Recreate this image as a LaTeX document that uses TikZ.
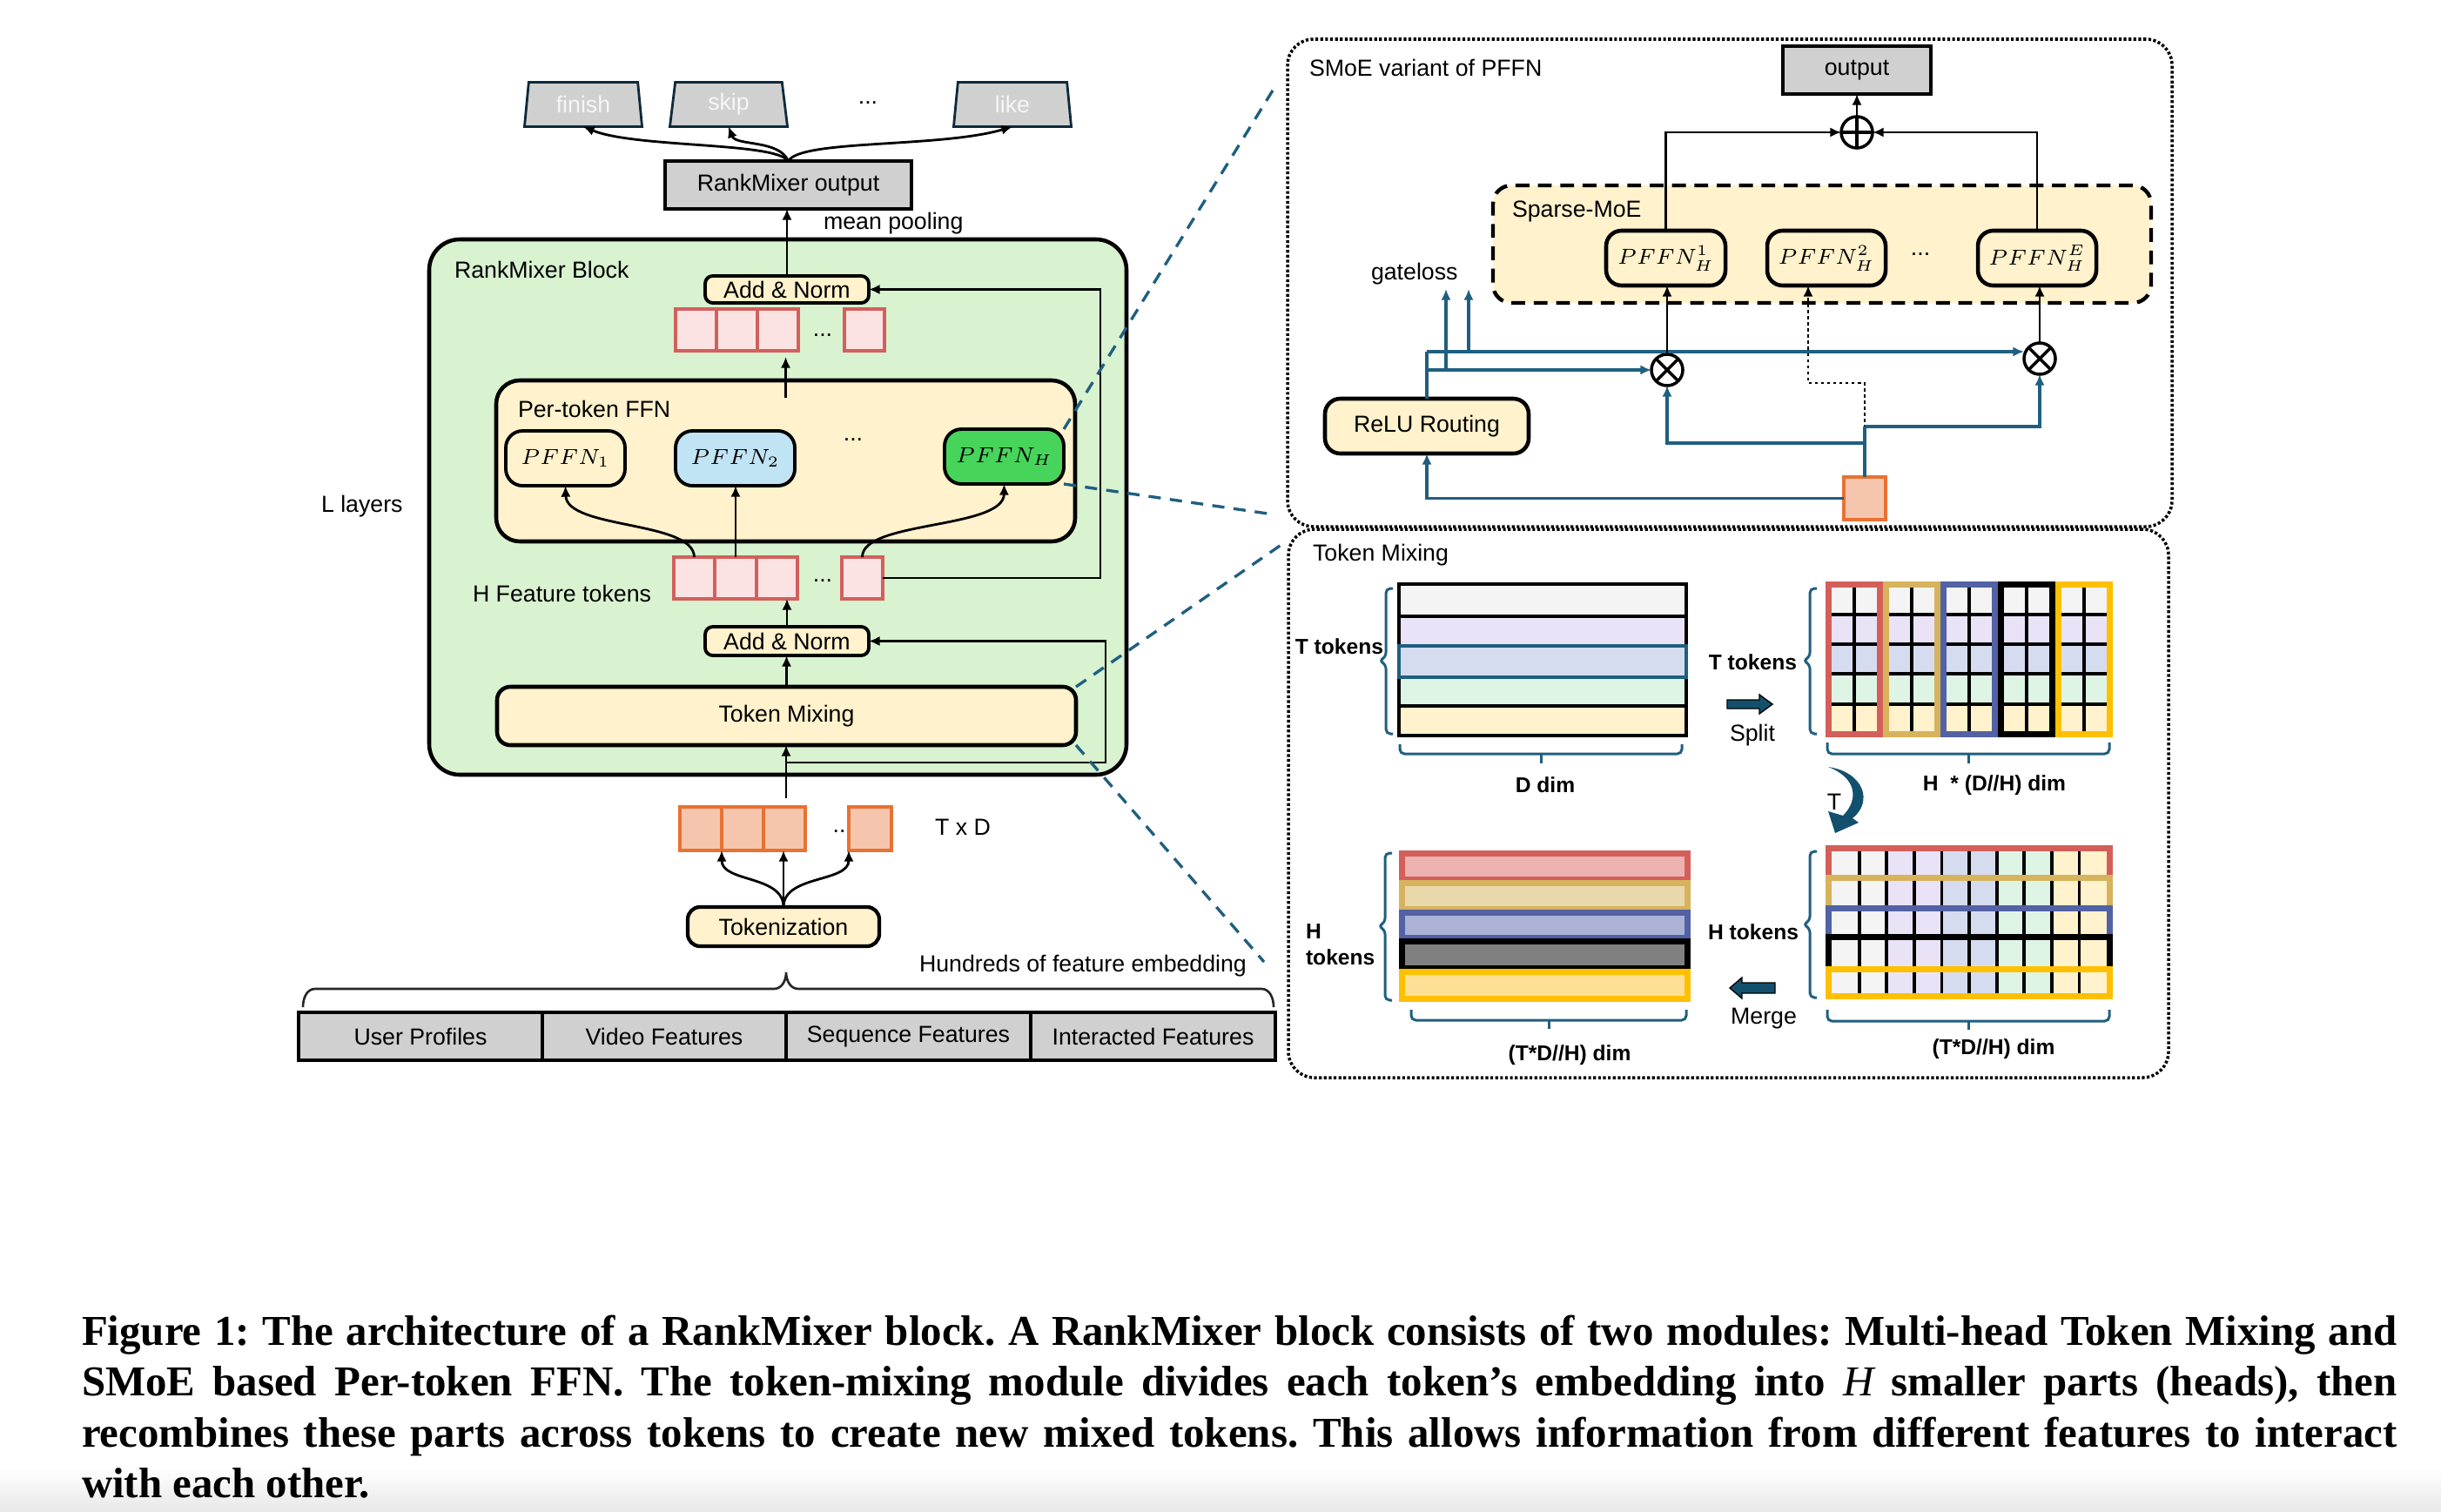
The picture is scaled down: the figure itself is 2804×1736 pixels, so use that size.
\documentclass[tikz,border=0pt]{standalone}
\usepackage{fix-cm}
\usepackage{fontspec}
\setmainfont{Liberation Sans}
\newfontfamily\capfont{Liberation Serif}
\usetikzlibrary{shapes.geometric,arrows.meta,calc}

\definecolor{blkg}{HTML}{D9F2D0}
\definecolor{cream}{HTML}{FFF2CC}
\definecolor{pinkf}{HTML}{FCE3E3}
\definecolor{pinkd}{HTML}{D2605D}
\definecolor{pblue}{HTML}{C1E4F5}
\definecolor{pgreen}{HTML}{47D45A}
\definecolor{orf}{HTML}{F5C6AD}
\definecolor{ord}{HTML}{E97132}
\definecolor{gry}{HTML}{D0D0D0}
\definecolor{zblue}{HTML}{1F5F80}
\definecolor{navy}{HTML}{0E2A3B}
\definecolor{rA}{HTML}{F4F4F4}
\definecolor{rB}{HTML}{EAE3F8}
\definecolor{rC}{HTML}{D6DCF0}
\definecolor{rD}{HTML}{DEF5E6}
\definecolor{rE}{HTML}{FFF2CC}
\definecolor{gR}{HTML}{D45F5A}
\definecolor{gG}{HTML}{D6B35C}
\definecolor{gB}{HTML}{5262A4}
\definecolor{gK}{HTML}{000000}
\definecolor{gY}{HTML}{FFC000}
\definecolor{iR}{HTML}{ECB2AF}
\definecolor{iG}{HTML}{E8D8AC}
\definecolor{iB}{HTML}{AAB3D5}
\definecolor{iK}{HTML}{808080}
\definecolor{iY}{HTML}{FDE096}
\definecolor{tarrow}{HTML}{13506E}

\newcommand\lblf{\fontsize{7.6}{9}\selectfont}
\newcommand\mthf{\fontsize{7.1}{9}\selectfont}
\newcommand\bldf{\fontsize{7}{8.5}\selectfont\bfseries}
\newcommand\capf{\capfont\bfseries\fontsize{13.9}{16}\selectfont\frenchspacing}
\newcommand\bx[7]{\node[#2,minimum width={(#5-#3)*0.01cm},minimum height={(#6-#4)*0.01cm}] (#1) at ({(#3+#5)/2},{(#4+#6)/2}) {#7};}

\begin{document}
\begin{tikzpicture}[x=0.01cm,y=-0.01cm,
  box/.style={draw,inner sep=0pt,outer sep=0pt,font=\lblf},
  mbox/.style={draw,inner sep=0pt,outer sep=0pt,font=\mthf},
  lbl/.style={inner sep=0pt,outer sep=0pt,font=\lblf},
  bld/.style={inner sep=0pt,outer sep=0pt,font=\bldf},
  arr/.style={line width=0.8pt,-{Latex[length=3.6pt,width=3.2pt]}},
  bl/.style={draw=zblue,line width=0.9pt},
  blarr/.style={draw=zblue,line width=0.9pt,-{Latex[length=3.6pt,width=3.2pt]}},
  zl/.style={draw=zblue,line width=0.95pt,dash pattern=on 4pt off 3pt},
  panel/.style={draw,line width=1pt,dash pattern=on 0.9pt off 0.7pt,rounded corners=8.5pt,inner sep=0pt,outer sep=0pt},
  brc/.style={draw=zblue,line width=0.85pt,rounded corners=1.5pt},
  tok/.style={box,fill=pinkf,draw=pinkd,line width=0.9pt},
  otok/.style={box,fill=orf,draw=ord,line width=0.9pt},
  trap/.style={trapezium,trapezium left angle=76,trapezium right angle=76,trapezium stretches body,draw=navy,fill=gry,line width=0.8pt,inner sep=0pt,outer sep=0pt,minimum width=1.35cm,minimum height=0.51cm,text=white!93!gray,font=\lblf},
  oplus/.style={circle,draw,line width=1pt,inner sep=0pt,outer sep=0pt,minimum size=0.36cm},
]
\useasboundingbox (0,0) rectangle (2804,1736);
\shade[top color=white,bottom color=black!9] (0,1686) rectangle (2804,1736);

% ---------------- outputs ----------------
\node[trap] (fin) at (670,120) {finish};
\node[trap] (skp) at (837,120) {skip};
\node[trap] (lik) at (1163,120) {like};
\node[lbl] (odots) at (997,118) {...};
\bx{rmo}{box,fill=gry,line width=1.05pt}{764}{185}{1047}{240}{RankMixer output}
\draw[arr] (rmo.north) .. controls (890,163) and (730,170) .. (fin.south);
\draw[arr] (rmo.north) .. controls (895,160) and (845,168) .. (skp.south);
\draw[arr] (rmo.north) .. controls (920,160) and (1080,170) .. (lik.south);
\node[lbl,anchor=west] (mp) at (946,257) {mean pooling};

% ---------------- RankMixer block ----------------
\bx{blk}{draw,fill=blkg,line width=1.3pt,rounded corners=10pt,inner sep=0pt,outer sep=0pt}{493}{275}{1294}{890}{}
\node[lbl,anchor=west] (blkt) at (522,310) {RankMixer Block};
\bx{an2}{box,fill=cream,line width=1.1pt,rounded corners=2.5pt}{810}{317}{998}{348}{Add \& Norm}
\bx{tA1}{tok}{776}{355}{823}{403}{}
\bx{tA2}{tok}{823}{355}{870}{403}{}
\bx{tA3}{tok}{870}{355}{917}{403}{}
\bx{tA4}{tok}{970}{355}{1016}{403}{}
\node[lbl] (tAd) at (945,385) {...};
\draw[arr] (an2.north) -- (an2.north |- rmo.south);

\bx{pffn}{draw,fill=cream,line width=1.3pt,rounded corners=7.7pt,inner sep=0pt,outer sep=0pt}{570}{437}{1235}{622}{}
\node[lbl,anchor=west] (pffnt) at (595,470) {Per-token FFN};
\draw[arr] ($(pffn.north)+(0,20)$) -- ($(pffn.north)+(0,-27)$);
\bx{p1}{mbox,fill=cream,line width=1.1pt,rounded corners=5.5pt}{581}{495}{718}{558}{$PFFN_1$}
\bx{p2}{mbox,fill=pblue,line width=1.1pt,rounded corners=5.5pt}{776}{495}{913}{558}{$PFFN_2$}
\bx{pH}{mbox,fill=pgreen,line width=1.1pt,rounded corners=5.5pt}{1085}{493}{1222}{556}{$PFFN_H$}
\node[lbl] (pdots) at (980,505) {...};

\bx{tB1}{tok}{774}{640}{821}{688}{}
\bx{tB2}{tok}{821}{640}{869}{688}{}
\bx{tB3}{tok}{869}{640}{916}{688}{}
\bx{tB4}{tok}{967}{640}{1014}{688}{}
\node[lbl] (tBd) at (945,667) {...};
\draw[arr] (tB1.north) .. controls (797,598) and (651,608) .. (p1.south);
\draw[arr] (tB2.north) -- (tB2.north |- p2.south);
\draw[arr] (tB4.north) .. controls (990,598) and (1153,608) .. (pH.south);
\draw[arr] (tB4.east) -- (1264,664) |- (an2.east);
\node[lbl,anchor=west] (hft) at (543,682) {H Feature tokens};
\node[lbl,anchor=west] (ll) at (369,582) {L layers};

\bx{an1}{box,fill=cream,line width=1.1pt,rounded corners=2.5pt}{810}{720}{998}{753}{Add \& Norm}
\draw[arr] (an1.north) -- (an1.north |- tB3.south);
\bx{tm}{box,fill=cream,line width=1.3pt,rounded corners=4.3pt}{571}{789}{1236}{856}{Token Mixing}
\draw[arr] (tm.north) -- (tm.north |- an1.south);
\coordinate (inTop) at (903,917);
\coordinate (resB) at (903,876);
\draw[arr] (inTop) -- (inTop |- tm.south);
\draw[arr] (resB) -- (1270,876) |- (an1.east);

% ---------------- input ----------------
\bx{oA1}{otok}{781}{927}{829}{977}{}
\bx{oA2}{otok}{829}{927}{877}{977}{}
\bx{oA3}{otok}{877}{927}{925}{977}{}
\node[lbl] (oAd) at (964,955) {..};
\bx{oA4}{otok}{975}{927}{1024}{977}{}
\node[lbl,anchor=west] (txd) at (1074,950) {T x D};
\bx{tokz}{box,fill=cream,line width=1.2pt,rounded corners=4pt}{790}{1042}{1010}{1087}{Tokenization}
\draw[arr] (tokz.north) .. controls (900,1005) and (829,1014) .. (oA2.south west);
\draw[arr] (tokz.north) -- (tokz.north |- oA3.south);
\draw[arr] (tokz.north) .. controls (900,1005) and (975,1014) .. (oA4.south west);
\node[lbl,anchor=west] (hfe) at (1056,1110) {Hundreds of feature embedding};
\draw[line width=0.75pt,draw=black!85] (348,1157) to[out=90,in=180] (362,1136) -- (889,1136) to[out=0,in=-90] (903,1117) to[out=-90,in=180] (917,1136) -- (1449,1136) to[out=0,in=90] (1463,1157);
\bx{f1}{box,fill=gry,line width=1.3pt}{343}{1163}{623}{1218}{User Profiles}
\bx{f2}{box,fill=gry,line width=1.3pt}{623}{1163}{903}{1218}{Video Features}
\bx{f3}{box,fill=gry,line width=1.3pt}{903}{1163}{1184}{1218}{Sequence Features}
\bx{f4}{box,fill=gry,line width=1.3pt}{1184}{1163}{1465}{1218}{Interacted Features}

% ---------------- zoom lines ----------------
\coordinate (zs1) at (1465,99);
\coordinate (zs2) at (1463,591);
\coordinate (zt1) at (1473,625);
\coordinate (zt2) at (1452,1105);
\draw[zl] (pH.north east) -- (zs1);
\draw[zl] (pH.south east) -- (zs2);
\draw[zl] (tm.north east) -- (zt1);
\draw[zl] (tm.south east) -- (zt2);

% ---------------- SMoE panel ----------------
\bx{smoe}{panel}{1479}{45}{2495}{605}{}
\node[lbl,anchor=west] (smoet) at (1504,78) {SMoE variant of PFFN};
\bx{out}{box,fill=gry,line width=1.1pt}{2048}{53}{2218}{108}{output}
\node[oplus] (plus) at (2133,152) {};
\draw[line width=1pt] (plus.north) -- (plus.south) (plus.west) -- (plus.east);
\draw[arr] (plus.north) -- (out.south);
\bx{sm}{draw,fill=cream,line width=1.25pt,dash pattern=on 4.5pt off 2.8pt,rounded corners=6pt,inner sep=0pt,outer sep=0pt}{1715}{213}{2471}{348}{}
\node[lbl,anchor=west] (smt) at (1737,243) {Sparse-MoE};
\bx{e1}{mbox,fill=cream,line width=1.3pt,rounded corners=5pt}{1845}{265}{1982}{328}{$PFFN_H^1$}
\bx{e2}{mbox,fill=cream,line width=1.3pt,rounded corners=5pt}{2030}{265}{2166}{328}{$PFFN_H^2$}
\bx{eE}{mbox,fill=cream,line width=1.3pt,rounded corners=5pt}{2272}{265}{2408}{328}{$PFFN_H^E$}
\node[lbl] (edots) at (2206,292) {...};
\draw[arr] (e1.north) |- (plus.west);
\draw[arr] (eE.north) |- (plus.east);
\node[lbl,anchor=west] (gl) at (1575,315) {gateloss};
\bx{relu}{box,fill=cream,line width=1.3pt,rounded corners=5pt}{1522}{458}{1756}{521}{ReLU Routing}
\node[oplus] (m1) at (1915,425) {};
\node[oplus] (m2) at (2343,412) {};
\draw[line width=1pt] (m1.north east) -- (m1.south west) (m1.north west) -- (m1.south east);
\draw[line width=1pt] (m2.north east) -- (m2.south west) (m2.north west) -- (m2.south east);
\bx{ob}{box,fill=orf,draw=ord,line width=1.1pt}{2118}{548}{2166}{597}{}
\coordinate (rt) at (1639,404);
\coordinate (rl) at (1639,425);
\coordinate (g1) at (1661,332);
\coordinate (g2) at (1687,332);
\draw[bl] (relu.north) -- (rt);
\draw[blarr] (rt) -- (rt -| m2.west);
\draw[blarr] (rl) -- (m1.west);
\draw[blarr] (g1 |- rl) -- (g1);
\draw[blarr] (g2 |- rt) -- (g2);
\draw[arr] (m1.north) -- (m1.north |- e1.south);
\draw[arr] (m2.north) -- (m2.north |- eE.south);
\coordinate (d1) at (2077,440);
\draw[line width=0.8pt,dash pattern=on 1pt off 1pt,-{Latex[length=3.6pt,width=3.2pt]}] (ob.north) |- (d1) -- (d1 |- e2.south);
\coordinate (b1) at (2142,490);
\coordinate (b2) at (2142,509);
\draw[bl] (ob.north) -- (b1);
\draw[blarr] (b1) -| (m2.south);
\draw[blarr] (b2) -| (m1.south);
\draw[blarr] (ob.west) -| (relu.south);

% ---------------- Token Mixing panel ----------------
\bx{tmp}{panel}{1480}{608}{2491}{1238}{}
\node[lbl,anchor=west] (tmpt) at (1508,638) {Token Mixing};
% left top stack
\bx{L1}{draw,fill=rA,line width=0.95pt,inner sep=0pt,outer sep=0pt}{1607}{671}{1937}{708}{}
\bx{L2}{draw,fill=rB,line width=0.95pt,inner sep=0pt,outer sep=0pt}{1607}{708}{1937}{742}{}
\bx{L4}{draw,fill=rD,line width=0.95pt,inner sep=0pt,outer sep=0pt}{1607}{778}{1937}{811}{}
\bx{L5}{draw,fill=rE,line width=0.95pt,inner sep=0pt,outer sep=0pt}{1607}{811}{1937}{845}{}
\bx{L3}{draw=zblue,fill=rC,line width=1.1pt,inner sep=0pt,outer sep=0pt}{1607}{742}{1937}{778}{}
\node[bld,anchor=east] (tt1) at (1589,743) {T tokens};
\draw[brc] (1600,676) -- (1592,676) -- (1592,755) -- (1584,759) -- (1592,763) -- (1592,843) -- (1600,843);
\draw[brc] (1608,855) -- (1608,866) -- (1932,866) -- (1932,855);
\draw[brc] (1770,866) -- (1770,877);
\node[bld] (ddim) at (1775,902) {D dim};
% split arrow
\filldraw[fill=tarrow,draw=black,line width=0.4pt] (1984,804) -- (2021,804) -- (2021,798) -- (2036,809) -- (2021,820) -- (2021,814) -- (1984,814) -- cycle;
\node[lbl] (splt) at (2013,845) {Split};
\node[bld,anchor=east] (tt2) at (2064,761) {T tokens};
\draw[brc] (2087,676) -- (2079,676) -- (2079,755) -- (2071,759) -- (2079,763) -- (2079,843) -- (2087,843);
% right top grid
\fill[rA] (2097,668) rectangle (2427,706);
\fill[rB] (2097,706) rectangle (2427,740);
\fill[rC] (2097,740) rectangle (2427,774);
\fill[rD] (2097,774) rectangle (2427,809);
\fill[rE] (2097,809) rectangle (2427,847);
\foreach \y in {706,740,774,809} \draw[line width=1.1pt] (2097,\y) -- (2427,\y);
\foreach \x in {2130,2196,2262,2328,2394} \draw[line width=1.3pt] (\x,668) -- (\x,847);
\foreach \x/\c in {2097/gR,2163/gG,2229/gB,2295/gK,2361/gY} \draw[\c,line width=2pt] (\x+3.5,671.5) rectangle (\x+62.5,843.5);
\draw[brc] (2099,853) -- (2099,866) -- (2423,866) -- (2423,853);
\draw[brc] (2261,866) -- (2261,877);
\node[bld] (hdim) at (2291,902) {H\ \ * (D//H) dim};
% transpose arrow
\fill[tarrow] (2100,881) .. controls (2141,887) and (2152,921) .. (2128,940) -- (2135,945) -- (2108,957) -- (2100,932) -- (2117,937) .. controls (2136,918) and (2132,893) .. (2100,881) -- cycle;
\node[lbl] (tT) at (2107,921) {T};
% bottom left stack
\foreach \ya/\yb/\c/\d/\e in {977/1011/gR/iR/4,1011/1045/gG/iG/4,1045/1078/gB/iB/4,1078/1113/gK/iK/4,1113/1151/gY/iY/7}{
  \fill[\c] (1607,\ya) rectangle (1942,\yb);
  \fill[\d] (1614,\ya+7) rectangle (1935,\yb-\e);
}
\node[bld,anchor=west] (hh) at (1500,1070) {H};
\node[bld,anchor=west] (htk) at (1500,1100) {tokens};
\draw[brc] (1599,980) -- (1591,980) -- (1591,1060) -- (1583,1064) -- (1591,1068) -- (1591,1149) -- (1599,1149);
\draw[brc] (1621,1160) -- (1621,1172) -- (1937,1172) -- (1937,1160);
\draw[brc] (1779,1172) -- (1779,1182);
\node[bld] (tdim1) at (1803,1212) {(T*D//H) dim};
% merge arrow
\filldraw[fill=tarrow,draw=black,line width=0.4pt] (2039,1129) -- (2001,1129) -- (2001,1123) -- (1987,1135) -- (2001,1147) -- (2001,1141) -- (2039,1141) -- cycle;
\node[lbl] (mrg) at (2026,1170) {Merge};
\node[bld,anchor=east] (htk2) at (2066,1071) {H tokens};
\draw[brc] (2087,978) -- (2079,978) -- (2079,1058) -- (2071,1062) -- (2079,1066) -- (2079,1146) -- (2087,1146);
% bottom right grid
\foreach \ya/\yb/\c in {971/1005/gR,1005/1040/gG,1040/1073/gB,1073/1110/gK,1110/1148/gY}{
  \fill[\c] (2097,\ya) rectangle (2427,\yb);
  \foreach \k/\cc in {0/rA,1/rB,2/rC,3/rD,4/rE}
    \fill[\cc] (2104+63.2*\k,\ya+7) rectangle (2104+63.2*\k+63.2,\yb);
  \foreach \j in {1,...,9}
    \draw[line width=1.1pt] (2104+31.6*\j,\ya+7) -- (2104+31.6*\j,\yb);
}
\fill[gY] (2097,1141) rectangle (2427,1148);
\draw[brc] (2099,1160) -- (2099,1173) -- (2423,1173) -- (2423,1160);
\draw[brc] (2261,1173) -- (2261,1183);
\node[bld] (tdim2) at (2290,1205) {(T*D//H) dim};

% ---------------- caption ----------------
\begin{scope}[every node/.style={inner sep=0pt,outer sep=0pt,anchor=base west,font=\capf}]
\node (cap1) at (94,1545) {\makebox[26.58cm][s]{Figure 1: The architecture of a RankMixer block. A RankMixer block consists of two modules: Multi-head Token Mixing and}};
\node (cap2) at (94,1603) {\makebox[26.58cm][s]{SMoE based Per-token FFN. The token-mixing module divides each token’s embedding into {\fontseries{m}\itshape H} smaller parts (heads), then}};
\node (cap3) at (94,1662) {\makebox[26.58cm][s]{recombines these parts across tokens to create new mixed tokens. This allows information from different features to interact}};
\node (cap4) at (94,1720) {with each other.};
\end{scope}
\end{tikzpicture}
\end{document}
